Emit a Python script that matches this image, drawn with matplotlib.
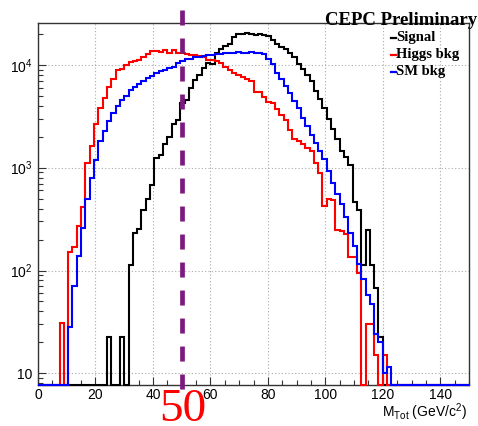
import numpy as np
import matplotlib
matplotlib.use("Agg")
import matplotlib.pyplot as plt
import matplotlib.transforms as mtransforms
from matplotlib.lines import Line2D
from matplotlib.ticker import FixedLocator, MultipleLocator, LogLocator, NullFormatter, FuncFormatter

# histogram binning: 100 bins of 1.5 GeV from 0 to 150
bin_edges = np.linspace(0, 150, 101)

# bin contents (0 = empty bin)
signal = [
    0, 0, 0, 0, 0, 0, 0, 0, 0, 0,
    0, 0, 0, 0, 0, 0, 22.7, 0, 0, 22.7,
    0, 113, 232, 251, 390, 500, 680, 1240, 1340, 1700,
    2000, 2650, 2930, 4250, 4580, 5940, 7150, 8000, 9290, 10500,
    10300, 13000, 14200, 15300, 16000, 18500, 20000, 19800, 20600, 20000,
    19500, 20000, 19500, 19200, 17500, 15800, 15000, 14300, 13000, 12000,
    10200, 9100, 8000, 7000, 5600, 4650, 3800, 3000, 2400, 1900,
    1460, 1270, 1050, 460, 390, 113, 250, 113, 68, 22.7,
    0, 0, 0, 0, 0, 0, 0, 0, 0, 0,
    0, 0, 0, 0, 0, 0, 0, 0, 0, 0,
]
higgs_bkg = [
    0, 0, 0, 0, 0, 31, 0, 151, 170, 273,
    412, 1110, 1640, 2650, 3800, 4750, 6030, 7310, 8940, 9080,
    10000, 10700, 10900, 11200, 11900, 12700, 13500, 13700, 13200, 13800,
    13000, 13800, 13000, 13000, 12800, 12600, 12600, 12200, 11900, 11200,
    11100, 10800, 10500, 9600, 8900, 8300, 8000, 7700, 7300, 6900,
    5500, 5400, 4900, 4400, 4300, 3700, 3270, 2930, 2300, 1900,
    1800, 1700, 1550, 1450, 1100, 880, 420, 500, 480, 250,
    240, 225, 135, 135, 95, 0, 30, 30, 15, 0,
    15, 0, 0, 0, 0, 0, 0, 0, 0, 0,
    0, 0, 0, 0, 0, 0, 0, 0, 0, 0,
]
sm_bkg = [
    0, 0, 0, 0, 0, 0, 0, 28, 70, 138,
    260, 500, 795, 1200, 1800, 2250, 2820, 3400, 4000, 4580,
    4930, 5640, 6070, 6540, 6890, 7430, 7830, 8310, 8800, 9000,
    9300, 9630, 10400, 10800, 11300, 11500, 11800, 12000, 12300, 12500,
    12600, 12700, 12800, 12900, 13000, 13100, 13200, 13000, 13100, 13300,
    13000, 13000, 12700, 11400, 10100, 8400, 7300, 6160, 5350, 4500,
    3800, 3040, 2560, 2090, 1740, 1460, 1220, 920, 710, 560,
    440, 330, 232, 173, 115, 82, 58, 47, 24, 20,
    10, 11.5, 0, 0, 0, 0, 0, 0, 0, 0,
    0, 0, 0, 0, 0, 0, 0, 0, 0, 0,
]

series_labels = ["Signal", "Higgs bkg", "SM bkg"]
series_colors = ["black", "red", "blue"]
cut_value = 50
x_tick_values = [0, 20, 40, 60, 80, 100, 120, 140]
y_tick_values = [10, 100, 1000, 10000]
y_tick_labels = ["10", "$10^{2}$", "$10^{3}$", "$10^{4}$"]

plt.rcParams["font.family"] = ["Liberation Sans", "DejaVu Sans"]
plt.rcParams["mathtext.fontset"] = "custom"
plt.rcParams["mathtext.rm"] = "Liberation Sans"
plt.rcParams["mathtext.it"] = "Liberation Sans:italic"

W, H = 478, 426
fig = plt.figure(figsize=(W / 100, H / 100), dpi=100)
ax = fig.add_axes([38 / W, 41 / H, 431 / W, 362.3 / H])
ymin, ymax = 7.7, 25700

def floored(v):
    # empty bins are drawn along the bottom of the frame, like ROOT does
    return np.clip(np.asarray(v, dtype=float), ymin, None)

for vals, col in zip([signal, higgs_bkg, sm_bkg], series_colors):
    ax.stairs(floored(vals), bin_edges, baseline=None, color=col, lw=1.5,
              clip_on=False, zorder=3)

ax.set_yscale("log")
ax.set_xlim(0, 150)
ax.set_ylim(ymin, ymax)

ax.xaxis.set_major_locator(FixedLocator(x_tick_values))
ax.xaxis.set_minor_locator(MultipleLocator(5))
ax.yaxis.set_major_locator(FixedLocator(y_tick_values))
ax.yaxis.set_major_formatter(FuncFormatter(
    lambda v, p: y_tick_labels[y_tick_values.index(int(round(v)))] if int(round(v)) in y_tick_values else ""))
ax.yaxis.set_minor_locator(LogLocator(base=10, subs=range(2, 10), numticks=20))
ax.yaxis.set_minor_formatter(NullFormatter())

ax.tick_params(which="both", direction="in", top=False, right=False, width=0.8, colors="#333333",
               labelcolor="black", labelsize=10)
ax.tick_params(which="major", length=5.8)
ax.tick_params(which="minor", length=3.6)
ax.tick_params(axis="x", pad=2)
ax.tick_params(axis="y", pad=4)
for s in ax.spines.values():
    s.set_color("#333333")
    s.set_linewidth(1.0)

ax.grid(True, which="major", color="#aaaaaa", ls=(0, (1, 2)), lw=0.8, zorder=0)

# cut line at 50, sticking out of the frame
trans = mtransforms.blended_transform_factory(ax.transData, ax.transAxes)
ax.plot([cut_value, cut_value], [(385 - 10) / 362.3, (385 - 393.7) / 362.3], transform=trans,
        color="#7b1b7e", lw=3.4, ls=(0, (3.18, 2.75)), solid_capstyle="butt",
        dash_capstyle="butt", clip_on=False, zorder=4)
fig.text(183 / W, 1 - 421 / H, str(cut_value), color="red", fontsize=34,
         family="Liberation Serif", ha="center", va="baseline")

fig.text(477 / W, 1 - 25 / H, "CEPC Preliminary", fontsize=13.5, weight="bold",
         family="Liberation Serif", ha="right", va="baseline")

# legend: small coloured dash followed by the label
for i, (lab, col) in enumerate(zip(series_labels, series_colors)):
    yb = 41 + 17 * i
    fig.add_artist(Line2D([391 / W, 396 / W], [1 - (yb - 3.5) / H] * 2, color=col, lw=1.6,
                          transform=fig.transFigure))
    fig.text(396.5 / W, 1 - yb / H, lab, color="black", fontsize=10.5, weight="bold",
             family="Liberation Serif", ha="left", va="baseline")

fig.text(467 / W, 1 - 417 / H, r"M$_{\rm Tot}$ (GeV/c$^{2}$)", fontsize=10,
         ha="right", va="baseline")

fig.savefig("out.png", dpi=100)
